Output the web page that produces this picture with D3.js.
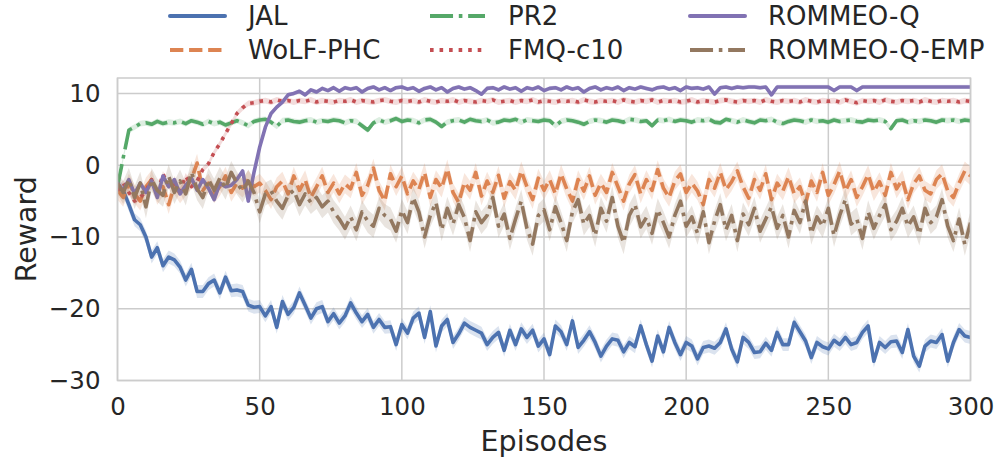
<!DOCTYPE html>
<html>
<head>
<meta charset="utf-8">
<script src="https://cdn.jsdelivr.net/npm/d3@7"></script>
<style>
  html, body { margin: 0; padding: 0; background: #fff; }
  svg { display: block; font-family: "DejaVu Sans", sans-serif; }
</style>
</head>
<body>
<svg id="chart" width="1002" height="466"></svg>
<script>
// ---- data (episodes 0..300, every 2 episodes) ----
const episodes = d3.range(0, 301, 2);
const seriesNames = ["JAL", "WoLF-PHC", "PR2", "FMQ-c10", "ROMMEO-Q", "ROMMEO-Q-EMP"];
const xTicks = [0, 50, 100, 150, 200, 250, 300];
const yTicks = [-30, -20, -10, 0, 10];

const jal = [-3.0,-3.5,-5.5,-7.6,-8.3,-10.0,-12.8,-11.5,-14.0,-12.8,-13.2,-14.2,-16.0,-14.5,-17.6,-17.6,-16.5,-16.0,-17.8,-15.6,
 -17.5,-17.4,-17.6,-19.5,-19.8,-19.7,-21.0,-19.7,-22.6,-19.0,-20.8,-19.8,-17.8,-19.5,-21.3,-20.0,-19.7,-21.8,-20.7,-22.0,
 -21.0,-19.2,-20.6,-21.8,-20.8,-22.6,-21.5,-22.6,-22.5,-25.0,-22.2,-23.4,-21.3,-20.6,-24.0,-20.4,-25.2,-22.4,-21.5,-24.7,
 -23.5,-22.0,-22.6,-23.0,-23.4,-25.0,-24.0,-23.3,-25.8,-23.0,-25.0,-22.8,-24.0,-23.0,-25.2,-24.2,-26.4,-22.4,-23.2,-25.0,
 -21.7,-25.4,-24.4,-23.2,-24.7,-26.6,-25.2,-24.2,-24.4,-26.0,-24.7,-25.3,-22.4,-25.0,-27.3,-23.8,-26.0,-22.6,-24.7,-26.4,
 -24.7,-25.2,-27.0,-25.4,-25.2,-25.5,-24.7,-22.8,-25.6,-27.4,-24.0,-24.7,-26.1,-26.0,-24.8,-25.8,-23.3,-25.0,-25.0,-21.9,
 -23.2,-24.5,-26.8,-24.7,-25.3,-25.6,-24.4,-25.0,-24.0,-25.0,-24.7,-23.3,-22.4,-27.3,-24.7,-25.4,-24.6,-24.5,-26.1,-22.9,
 -26.6,-28.0,-25.2,-24.5,-24.7,-23.6,-27.3,-24.7,-22.9,-23.8,-24.0];

const wolf = [-3.5,-4.5,-2.5,-4.0,-5.0,-3.0,-2.0,-4.2,-3.0,-5.5,-2.8,-4.0,-3.0,-2.0,0.3,-3.5,-2.5,-4.0,-3.0,-1.5,
 -3.8,-2.5,-3.2,-2.0,-3.0,-2.5,-3.5,-4.8,-3.0,-2.2,-4.0,-1.5,-3.5,-2.0,-4.5,-3.0,-1.5,-3.8,-2.5,-4.0,
 -2.6,-3.3,-1.0,-4.2,-2.8,-0.4,-3.5,-5.0,-1.2,-3.0,-1.5,-4.0,-2.2,-3.4,-1.0,-4.5,-2.0,-3.2,-0.5,-3.8,
 -5.2,-2.4,-3.5,-1.0,-4.3,-2.2,-3.8,-1.4,-4.6,-2.3,-3.5,-0.8,-3.0,-4.8,-1.8,-3.5,-2.0,-4.0,-1.2,-3.3,
 -5.0,-2.0,-3.6,-1.5,-4.2,-2.5,-3.8,-1.0,-3.0,-5.0,-2.6,-1.3,-4.0,-2.0,-3.5,-0.6,-3.2,-4.5,-2.2,-1.2,
 -3.8,-2.5,-3.6,-5.5,-2.0,-3.2,-1.0,-3.4,-2.3,-0.8,-3.0,-4.6,-2.0,-3.5,-1.2,-4.8,-2.5,-3.6,-1.6,-4.0,
 -3.0,-5.3,-2.2,-3.8,-1.0,-4.2,-2.7,-0.8,-3.6,-2.0,-4.5,-3.0,-1.3,-3.7,-2.3,-4.2,-1.0,-3.3,-2.0,-4.8,
 -2.6,-1.5,-3.5,-4.0,-2.0,-1.2,-3.6,-4.5,-2.5,-0.8,-1.5];

const pr2 = [-3.0,1.0,4.9,5.3,5.8,5.9,5.7,6.1,5.8,6.0,5.9,6.1,5.8,6.2,6.0,5.7,6.1,5.8,6.0,5.6,
 5.9,6.2,5.9,5.5,6.1,6.3,6.4,6.0,5.4,6.2,6.3,6.1,6.0,6.2,6.3,6.0,6.2,6.1,6.3,6.2,
 5.9,6.2,6.1,5.5,4.9,5.9,6.3,6.0,6.2,6.5,6.1,6.3,6.2,5.9,6.3,6.4,6.0,5.4,6.0,6.2,
 6.3,6.0,6.4,6.2,6.1,6.3,5.9,6.0,6.3,6.2,6.4,6.0,6.3,6.2,6.1,6.3,6.2,5.5,6.1,6.3,
 6.2,6.0,5.7,6.1,6.3,6.2,6.0,6.3,6.2,6.0,6.4,6.3,6.1,6.2,5.5,6.3,6.2,6.4,6.1,6.3,
 6.2,6.0,6.3,6.2,6.4,6.0,5.9,6.4,6.2,6.0,6.3,6.1,5.9,6.3,6.2,6.4,6.0,5.8,6.1,6.3,
 6.2,6.0,6.3,6.1,6.2,6.0,6.3,6.1,6.2,6.3,6.1,6.0,6.3,6.2,6.3,6.1,5.1,6.2,6.3,6.0,
 6.2,6.1,6.3,6.2,6.0,6.3,6.2,6.3,6.1,6.3,6.2];

const fmq = [-3.5,-2.5,-3.8,-5.0,-4.5,-3.6,-2.0,-4.0,-1.2,-3.0,-2.5,-3.6,-1.5,-3.0,-2.2,-0.6,0.2,1.8,3.0,4.4,
 5.8,7.2,8.0,8.6,8.7,8.9,9.0,8.8,9.1,8.9,9.0,8.8,9.0,8.9,9.1,8.8,9.0,8.9,8.8,9.0,
 8.9,9.1,8.8,9.0,8.9,8.8,9.0,9.1,8.9,8.8,9.0,8.9,9.0,8.8,9.1,8.9,8.8,9.0,8.9,9.1,
 8.8,9.0,8.9,8.8,9.0,8.9,9.1,8.8,8.9,9.0,8.8,9.0,8.9,9.1,8.8,9.0,8.9,8.8,9.0,8.9,
 9.0,8.8,9.1,8.9,8.8,9.0,8.9,9.0,8.8,9.1,8.9,8.8,9.0,8.9,9.1,8.8,9.0,8.9,9.0,8.8,
 8.9,9.1,8.8,9.0,8.9,8.8,9.0,9.1,8.9,8.8,9.0,8.9,9.0,8.8,9.1,8.9,8.8,9.0,8.9,9.0,
 8.8,9.1,8.9,8.8,9.0,8.9,9.0,8.8,9.1,8.9,8.7,9.0,8.9,9.0,8.8,9.1,8.9,8.8,9.0,8.9,
 9.0,8.8,9.1,8.9,8.8,9.0,8.9,9.0,8.8,9.0,8.9];

const rommeo = [-2.5,-3.5,-2.0,-4.0,-2.5,-3.8,-2.2,-4.5,-1.5,-3.0,-2.0,-4.0,-2.8,-1.8,-3.5,-2.0,-3.2,-4.8,-2.5,-3.0,
 -2.8,-2.0,-0.8,-5.0,-1.0,2.5,5.3,7.2,8.1,8.8,9.8,10.0,10.3,9.8,10.5,10.2,10.7,10.4,10.8,10.3,
 10.8,10.6,10.8,10.2,10.7,10.9,10.5,10.8,10.4,10.8,10.9,10.6,10.8,10.3,10.7,10.9,10.5,10.8,10.2,10.7,
 10.9,10.6,10.8,10.4,9.9,10.7,10.8,10.5,10.9,10.6,10.8,10.3,10.8,10.6,10.9,10.4,10.7,10.8,10.5,10.9,
 10.6,10.8,10.2,10.7,10.9,10.5,10.8,10.6,10.9,10.4,10.8,10.6,10.9,10.7,10.5,10.8,10.9,10.6,10.8,10.4,
 10.9,10.7,10.8,10.6,10.9,9.9,10.8,10.9,10.7,10.9,10.8,10.9,10.9,10.8,10.9,9.8,10.9,10.9,10.9,10.9,
 10.9,10.9,10.9,10.9,10.9,10.9,10.4,10.9,10.9,10.9,10.4,10.9,10.9,10.9,10.9,10.9,10.9,10.9,10.9,10.9,
 10.9,10.9,10.9,10.9,10.9,10.9,10.9,10.9,10.9,10.9,10.9];

const rommeoEmp = [-2.5,-3.8,-2.0,-4.5,-2.5,-5.8,-2.0,-3.5,-4.2,-1.5,-3.8,-2.2,-4.0,-1.0,-3.3,-4.5,-2.0,-3.5,-1.8,-3.2,
 -1.0,-2.5,-3.6,-2.2,-3.8,-6.5,-4.0,-3.6,-5.0,-6.0,-4.2,-3.5,-5.5,-4.0,-5.2,-4.5,-5.8,-5.0,-6.5,-7.5,
 -8.8,-7.2,-9.0,-6.5,-7.8,-8.5,-6.0,-7.0,-7.5,-9.2,-6.3,-8.0,-4.5,-6.5,-10.0,-7.0,-5.2,-9.0,-6.0,-8.2,
 -5.5,-7.3,-10.5,-6.5,-8.0,-7.0,-4.5,-8.5,-6.8,-10.2,-7.5,-5.0,-8.8,-11.0,-7.0,-6.2,-9.0,-5.8,-8.0,-10.5,
 -6.5,-4.8,-8.2,-7.0,-9.8,-6.0,-7.8,-4.5,-8.5,-10.8,-7.0,-5.5,-8.6,-7.3,-9.5,-6.2,-8.0,-10.0,-7.0,-5.0,
 -8.5,-7.2,-9.5,-6.5,-10.8,-7.8,-5.5,-9.0,-7.0,-10.5,-6.8,-8.3,-6.0,-9.2,-7.5,-5.8,-8.8,-7.0,-10.0,-6.3,
 -8.0,-5.0,-9.5,-7.2,-8.5,-6.0,-9.8,-7.0,-4.8,-8.2,-7.5,-10.2,-6.5,-8.8,-7.0,-5.5,-9.0,-7.8,-6.0,-8.5,
 -7.2,-9.6,-6.0,-8.0,-7.2,-4.8,-8.5,-10.5,-7.5,-11.0,-8.0];

// confidence band half-widths (reward units), one per series
const bandHalfWidth = [0.9, 1.3, 0.4, 0.4, 0.3, 1.6];
const seriesColors = ["#4C72B0", "#DD8452", "#55A868", "#C44E52", "#8172B3", "#937860"];
const LW = 3.6;
const seriesDashes = [null, [3.7, 1.6], [6.4, 1.6, 1, 1.6], [1, 1.65], null, [6.4, 1.6, 1, 1.6]];
const seriesValues = [jal, wolf, pr2, fmq, rommeo, rommeoEmp];
const dashStr = (k) => seriesDashes[k] ? seriesDashes[k].map(d => d * LW).join(",") : null;

// ---- chart ----
const svg = d3.select("#chart");
const W = 1002, H = 466;
const m = { left: 117.5, right: W - 970.5, top: 78, bottom: H - 380.5 };
const x = d3.scaleLinear().domain([0, 300]).range([m.left, W - m.right]);
const y = d3.scaleLinear().domain([-30, 12.15]).range([H - m.bottom, m.top]);
const textColor = "#262626";
const gridColor = "#cccccc";

// grid
svg.append("g").selectAll("line").data(xTicks).join("line")
  .attr("x1", d => x(d)).attr("x2", d => x(d))
  .attr("y1", m.top).attr("y2", H - m.bottom)
  .attr("stroke", gridColor).attr("stroke-width", 1.5);
svg.append("g").selectAll("line").data(yTicks).join("line")
  .attr("x1", m.left).attr("x2", W - m.right)
  .attr("y1", d => y(d)).attr("y2", d => y(d))
  .attr("stroke", gridColor).attr("stroke-width", 1.5);

// clip
svg.append("clipPath").attr("id", "clip").append("rect")
  .attr("x", m.left).attr("y", m.top)
  .attr("width", W - m.left - m.right).attr("height", H - m.top - m.bottom);

const plot = svg.append("g").attr("clip-path", "url(#clip)");

seriesNames.forEach((name, k) => {
  const vals = seriesValues[k];
  const hw = bandHalfWidth[k];
  const pts = episodes.map((e, i) => ({ e, v: vals[i] }));
  const area = d3.area()
    .x(d => x(d.e)).y0(d => y(d.v - hw)).y1(d => y(d.v + hw));
  plot.append("path").datum(pts)
    .attr("d", area)
    .attr("fill", seriesColors[k]).attr("fill-opacity", 0.2).attr("stroke", "none");
  const line = d3.line().x(d => x(d.e)).y(d => y(d.v));
  const p = plot.append("path").datum(pts)
    .attr("d", line)
    .attr("fill", "none")
    .attr("stroke", seriesColors[k])
    .attr("stroke-width", LW)
    .attr("stroke-linejoin", "round")
    .attr("stroke-linecap", seriesDashes[k] ? "butt" : "round");
  if (seriesDashes[k]) p.attr("stroke-dasharray", dashStr(k));
});

// spines
svg.append("rect")
  .attr("x", m.left).attr("y", m.top)
  .attr("width", W - m.left - m.right).attr("height", H - m.top - m.bottom)
  .attr("fill", "none").attr("stroke", gridColor).attr("stroke-width", 1.5);

// axes
const xAxis = d3.axisBottom(x).tickValues(xTicks).tickSize(0).tickPadding(17);
const gx = svg.append("g").attr("transform", `translate(0,${H - m.bottom})`).call(xAxis);
gx.select(".domain").remove();
gx.selectAll("text").attr("font-size", 24.5).attr("fill", textColor).attr("font-family", "DejaVu Sans");

const yAxis = d3.axisLeft(y).tickValues(yTicks).tickSize(0).tickPadding(17);
const gy = svg.append("g").attr("transform", `translate(${m.left},0)`).call(yAxis);
gy.select(".domain").remove();
gy.selectAll("text").attr("font-size", 24.5).attr("fill", textColor).attr("font-family", "DejaVu Sans");

svg.append("text")
  .attr("x", (m.left + W - m.right) / 2).attr("y", 451)
  .attr("text-anchor", "middle").attr("font-size", 28.5).attr("fill", textColor)
  .text("Episodes");
svg.append("text")
  .attr("transform", `translate(36,${(m.top + H - m.bottom) / 2}) rotate(-90)`)
  .attr("text-anchor", "middle").attr("font-size", 28.5).attr("fill", textColor)
  .text("Reward");

// legend (3 columns, column-major)
const legX = [170, 430, 690];
const legY = [16, 50];
seriesNames.forEach((name, k) => {
  const col = Math.floor(k / 2), row = k % 2;
  const g = svg.append("g").attr("transform", `translate(${legX[col]},${legY[row]})`);
  const l = g.append("line").attr("x1", 0).attr("x2", 55).attr("y1", 0).attr("y2", 0)
    .attr("stroke", seriesColors[k]).attr("stroke-width", LW + 0.4)
    .attr("stroke-linecap", seriesDashes[k] ? "butt" : "round");
  if (seriesDashes[k]) l.attr("stroke-dasharray", dashStr(k));
  g.append("text").attr("x", 78).attr("y", 0).attr("dy", "0.35em")
    .attr("font-size", 26).attr("fill", textColor).text(name);
});
</script>
</body>
</html>
